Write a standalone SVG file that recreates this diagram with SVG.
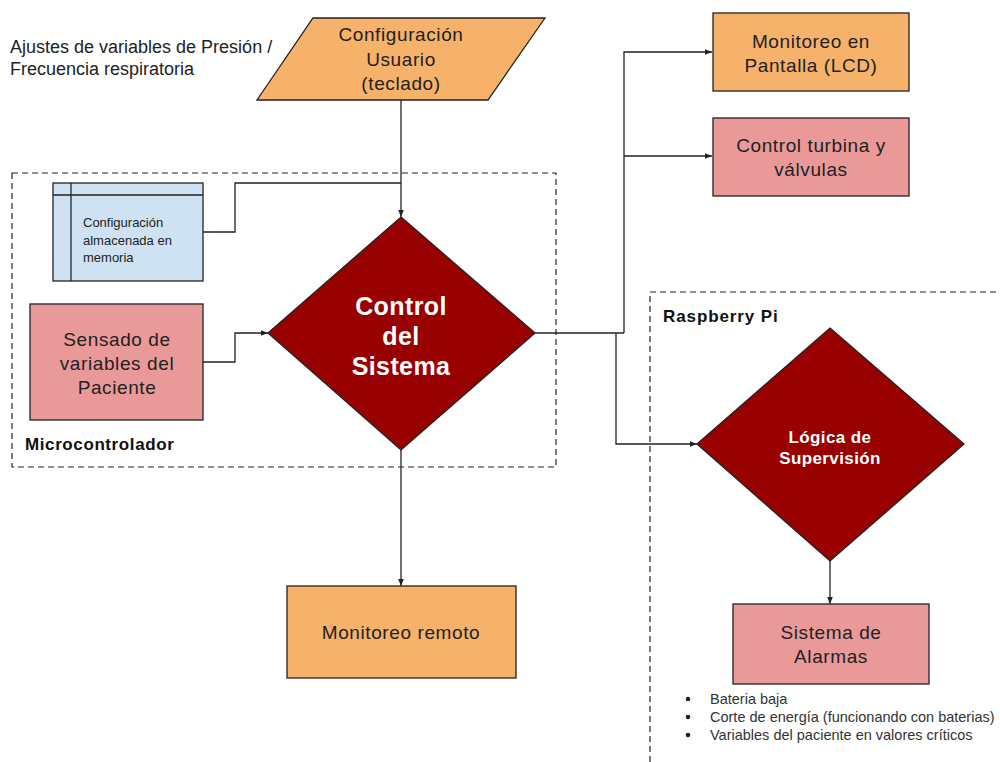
<svg xmlns="http://www.w3.org/2000/svg" width="1000" height="762" viewBox="0 0 1000 762">
<style>
text{font-family:"Liberation Sans",Arial,sans-serif;fill:#222}
.lbl{font-size:19px;letter-spacing:0.6px;text-anchor:middle}
.wh{fill:#fff;font-weight:bold;text-anchor:middle}
.node{stroke:#222;stroke-width:1.3}
.orange{fill:#f6b26b}
.pink{fill:#ea9999}
.blue{fill:#cfe2f3}
.red{fill:#990000}
.dash{fill:none;stroke:#222;stroke-width:1.2;stroke-dasharray:6 4}
.conn{fill:none;stroke:#222;stroke-width:1.3}
.small{font-size:14.5px;fill:#333}
.grp{font-size:17px;font-weight:bold;fill:#111}
</style>
<defs>
<marker id="arr" viewBox="0 0 10 10" refX="10" refY="5" markerWidth="7" markerHeight="7" orient="auto" markerUnits="userSpaceOnUse">
<path d="M0,1 L10,5 L0,9 z" fill="#222"/>
</marker>
</defs>
<rect width="1000" height="762" fill="#fff"/>

<g id="group-micro">
<rect class="dash" x="12" y="173" width="544" height="294"/>
<text class="grp" x="25" y="450" letter-spacing="0.6">Microcontrolador</text>
</g>
<g id="group-rpi">
<rect class="dash" x="650" y="292" width="370" height="490"/>
<text class="grp" x="663" y="322" letter-spacing="0.9">Raspberry Pi</text>
</g>

<g id="note-ajustes">
<text x="10" y="53" font-size="18">Ajustes de variables de Presión /</text>
<text x="10" y="75" font-size="18">Frecuencia respiratoria</text>
</g>

<g id="connectors">
<polyline class="conn" points="401,100 401,217" marker-end="url(#arr)"/>
<polyline class="conn" points="203,232 235,232 235,183 401,183"/>
<polyline class="conn" points="203,362 235,362 235,333 268,333" marker-end="url(#arr)"/>
<polyline class="conn" points="401,450 401,586" marker-end="url(#arr)"/>
<polyline class="conn" points="535,333 624,333"/>
<polyline class="conn" points="624,333 624,52 712,52" marker-end="url(#arr)"/>
<polyline class="conn" points="624,156 712,156" marker-end="url(#arr)"/>
<polyline class="conn" points="616,333 616,444 697,444" marker-end="url(#arr)"/>
<polyline class="conn" points="830,561 830,604" marker-end="url(#arr)"/>
</g>

<g id="config-usuario">
<polygon class="node orange" points="313,18 545,18 488,100 257,100"/>
<text class="lbl" x="401" y="41">Configuración</text>
<text class="lbl" x="401" y="66">Usuario</text>
<text class="lbl" x="401" y="90">(teclado)</text>
</g>

<g id="config-memoria">
<rect class="node blue" x="53" y="183" width="150" height="98"/>
<line class="node" x1="53" y1="195" x2="203" y2="195"/>
<line class="node" x1="71" y1="183" x2="71" y2="281"/>
<text x="83" y="227" font-size="13">Configuración</text>
<text x="83" y="245" font-size="13">almacenada en</text>
<text x="83" y="262" font-size="13">memoria</text>
</g>

<g id="sensado">
<rect class="node pink" x="30" y="304" width="173" height="116"/>
<text class="lbl" x="117" y="346">Sensado de</text>
<text class="lbl" x="117" y="370">variables del</text>
<text class="lbl" x="117" y="394">Paciente</text>
</g>

<g id="control-sistema">
<polygon class="node red" points="401,217 535,333 401,450 268,333"/>
<text class="wh" x="401" y="315" font-size="25" letter-spacing="0.4">Control</text>
<text class="wh" x="401" y="345" font-size="25" letter-spacing="0.4">del</text>
<text class="wh" x="401" y="375" font-size="25" letter-spacing="0.4">Sistema</text>
</g>

<g id="monitoreo-remoto">
<rect class="node orange" x="287" y="586" width="229" height="92"/>
<text class="lbl" x="401" y="639">Monitoreo remoto</text>
</g>

<g id="monitoreo-lcd">
<rect class="node orange" x="713" y="13" width="196" height="78"/>
<text class="lbl" x="811" y="48">Monitoreo en</text>
<text class="lbl" x="811" y="72">Pantalla (LCD)</text>
</g>

<g id="control-turbina">
<rect class="node pink" x="713" y="118" width="196" height="78"/>
<text class="lbl" x="811" y="152">Control turbina y</text>
<text class="lbl" x="811" y="176">válvulas</text>
</g>

<g id="logica-supervision">
<polygon class="node red" points="830,328 964,444 830,561 697,444"/>
<text class="wh" x="830" y="443" font-size="17" letter-spacing="0.4">Lógica de</text>
<text class="wh" x="830" y="464" font-size="17" letter-spacing="0.4">Supervisión</text>
</g>

<g id="sistema-alarmas">
<rect class="node pink" x="733" y="604" width="196" height="80"/>
<text class="lbl" x="831" y="639">Sistema de</text>
<text class="lbl" x="831" y="663">Alarmas</text>
</g>

<g id="alarm-list">
<circle cx="688" cy="699" r="2.3" fill="#222"/>
<circle cx="688" cy="717" r="2.3" fill="#222"/>
<circle cx="688" cy="735" r="2.3" fill="#222"/>
<text class="small" x="710" y="704">Bateria baja</text>
<text class="small" x="710" y="722">Corte de energía (funcionando con baterias)</text>
<text class="small" x="710" y="740">Variables del paciente en valores críticos</text>
</g>
</svg>
